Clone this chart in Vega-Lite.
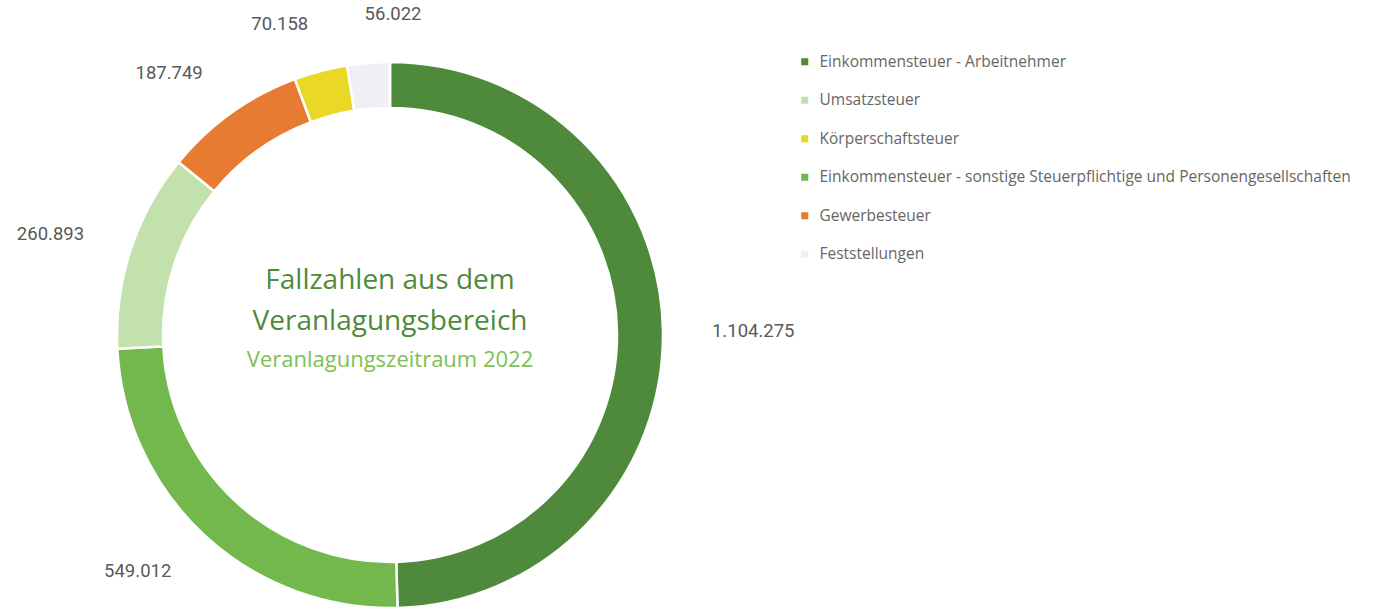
{
  "$schema": "https://vega.github.io/schema/vega-lite/v6.json",
  "width": 780,
  "height": 670,
  "padding": 0,
  "autosize": {"type": "pad"},
  "background": "white",
  "config": {
    "view": {"stroke": null},
    "locale": {"number": {"decimal": ",", "thousands": ".", "grouping": [3], "currency": ["", " €"]}}
  },
  "datasets": {
    "faelle": [
      {"Kategorie": "Einkommensteuer - Arbeitnehmer", "Anzahl": 1104275, "Reihenfolge": 1},
      {"Kategorie": "Einkommensteuer - sonstige Steuerpflichtige und Personengesellschaften", "Anzahl": 549012, "Reihenfolge": 2},
      {"Kategorie": "Umsatzsteuer", "Anzahl": 260893, "Reihenfolge": 3},
      {"Kategorie": "Gewerbesteuer", "Anzahl": 187749, "Reihenfolge": 4},
      {"Kategorie": "Körperschaftsteuer", "Anzahl": 70158, "Reihenfolge": 5},
      {"Kategorie": "Feststellungen", "Anzahl": 56022, "Reihenfolge": 6}
    ]
  },
  "layer": [
    {
      "data": {"name": "faelle"},
      "mark": {"type": "arc", "radius": 273, "radius2": 227, "stroke": "white", "strokeWidth": 2.5},
      "encoding": {
        "theta": {"field": "Anzahl", "type": "quantitative", "stack": true},
        "order": {"field": "Reihenfolge", "type": "quantitative"},
        "color": {
          "field": "Kategorie",
          "type": "nominal",
          "scale": {
            "domain": [
              "Einkommensteuer - Arbeitnehmer",
              "Umsatzsteuer",
              "Körperschaftsteuer",
              "Einkommensteuer - sonstige Steuerpflichtige und Personengesellschaften",
              "Gewerbesteuer",
              "Feststellungen"
            ],
            "range": ["#4f8a3c", "#c3e1ad", "#ead826", "#72b84c", "#e77b31", "#eff0f3"]
          },
          "legend": {
            "title": null,
            "orient": "none",
            "legendX": 797,
            "legendY": 54,
            "symbolType": "square",
            "symbolSize": 50,
            "symbolStrokeWidth": 0,
            "labelFont": "Open Sans",
            "labelFontSize": 15.5,
            "labelColor": "#666666",
            "labelLimit": 700,
            "labelOffset": 7,
            "rowPadding": 21.5,
            "padding": 0
          }
        }
      }
    },
    {
      "data": {"name": "faelle"},
      "mark": {
        "type": "text",
        "radius": 322,
        "font": "Roboto",
        "fontSize": 18.5,
        "fill": "#595959",
        "baseline": "middle",
        "align": {"expr": "datum.Reihenfolge == 1 || datum.Reihenfolge == 6 ? 'left' : 'right'"}
      },
      "encoding": {
        "theta": {"field": "Anzahl", "type": "quantitative", "stack": true},
        "order": {"field": "Reihenfolge", "type": "quantitative"},
        "text": {"field": "Anzahl", "type": "quantitative", "format": ",d"}
      }
    },
    {
      "data": {"values": [{"Zeile": "Fallzahlen aus dem"}]},
      "mark": {"type": "text", "font": "Open Sans", "fontSize": 28, "fill": "#4f8a3c", "baseline": "middle", "align": "center", "dy": -54},
      "encoding": {"text": {"field": "Zeile", "type": "nominal"}}
    },
    {
      "data": {"values": [{"Zeile": "Veranlagungsbereich"}]},
      "mark": {"type": "text", "font": "Open Sans", "fontSize": 28, "fill": "#4f8a3c", "baseline": "middle", "align": "center", "dy": -13},
      "encoding": {"text": {"field": "Zeile", "type": "nominal"}}
    },
    {
      "data": {"values": [{"Zeile": "Veranlagungszeitraum 2022"}]},
      "mark": {"type": "text", "font": "Open Sans", "fontSize": 22, "fill": "#7cc152", "baseline": "middle", "align": "center", "dy": 25},
      "encoding": {"text": {"field": "Zeile", "type": "nominal"}}
    }
  ]
}
